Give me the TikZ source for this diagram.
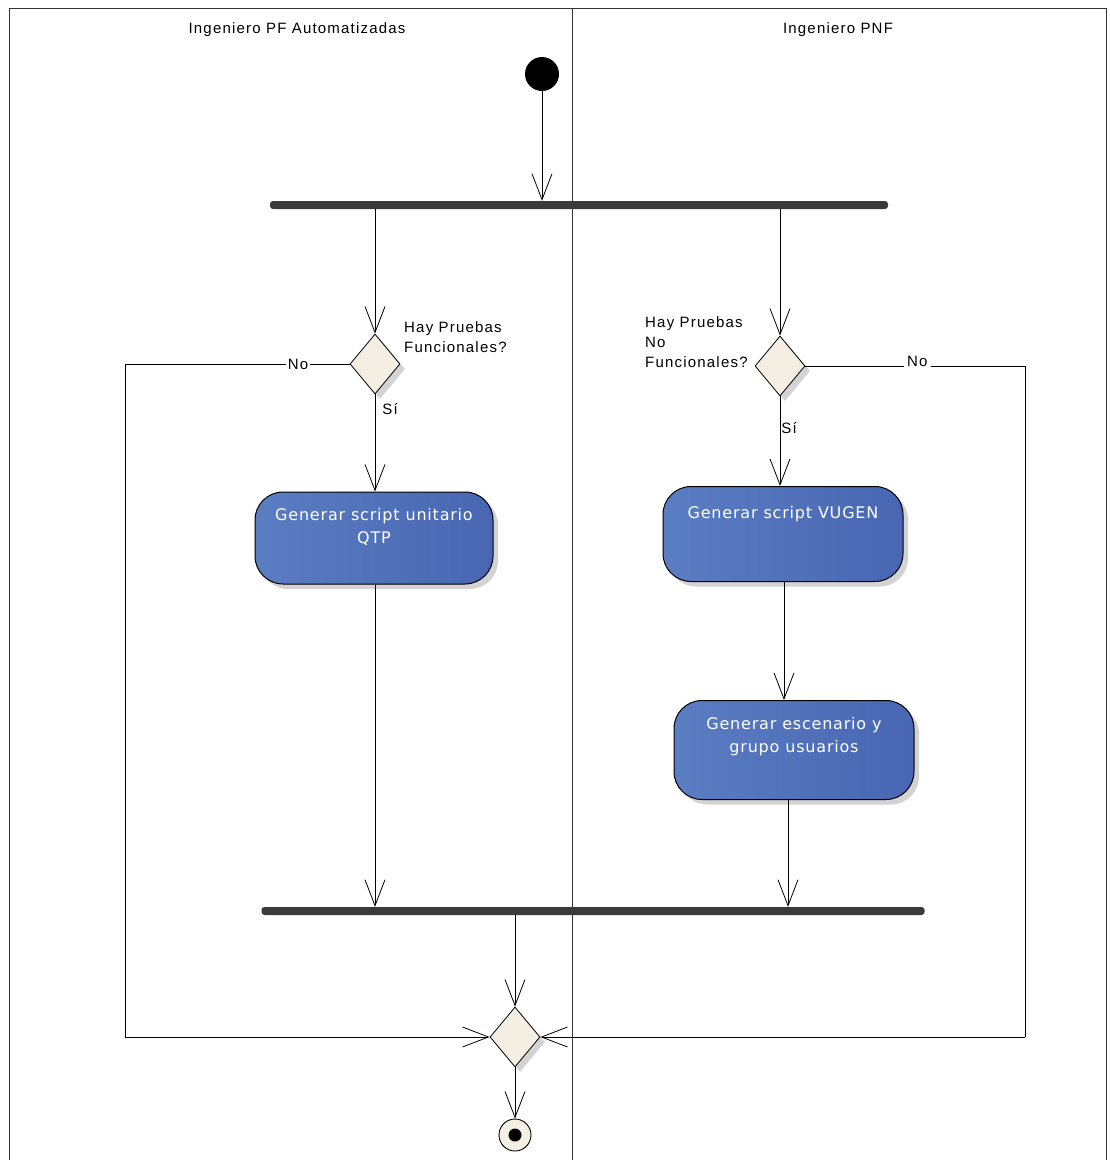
\documentclass[tikz,border=0pt]{standalone}
\usepackage{fontspec}
\setmainfont{Liberation Sans}
\newfontfamily\actfont{DejaVu Sans}[LetterSpace=5]
\newfontfamily\lblfont{Liberation Sans}[LetterSpace=8]
\usetikzlibrary{arrows.meta,shapes.geometric,shadows}
\definecolor{actblueL}{HTML}{5B7DC2}
\definecolor{actblueR}{HTML}{4866B2}
\definecolor{decfill}{HTML}{F4EEE3}
\definecolor{barcol}{HTML}{3A3A3A}
\tikzset{
  arr/.style={draw=black, line width=0.9pt, -{Straight Barb[length=26pt,width=20pt,line width=0.8pt]}},
  flow/.style={draw=black, line width=0.9pt},
  act/.style={rectangle, rounded corners=28pt, draw=black, line width=1pt,
     left color=actblueL, right color=actblueR, text=white,
     font=\actfont\fontsize{16}{23}\selectfont, align=center,
     drop shadow={shadow xshift=5pt, shadow yshift=-5pt, opacity=0.35, fill=gray}},
  dec/.style={diamond, draw=black, line width=0.8pt, fill=decfill, inner sep=0pt,
     minimum width=50pt, minimum height=60pt,
     drop shadow={shadow xshift=5pt, shadow yshift=-5pt, opacity=0.35, fill=gray}},
  syncbar/.style={rectangle, fill=barcol, inner sep=0pt, minimum height=8pt, rounded corners=3pt},
  lbl/.style={font=\lblfont\fontsize{15}{20}\selectfont, align=left, inner sep=1pt},
  lane/.style={font=\lblfont\fontsize{15}{18}\selectfont},
}
\begin{document}
\begin{tikzpicture}[x=1pt,y=-1pt]
\useasboundingbox (0,0) rectangle (1110,1160);
% swimlanes
\draw[line width=1pt, draw=black!80] (9,1160) -- (9,8) -- (1106,8) -- (1106,1160);
\draw[line width=1pt, draw=black!80] (572,8) -- (572,1160);
\node[lane] (laneL) at (297,30) {Ingeniero PF Automatizadas};
\node[lane] (laneR) at (838,30) {Ingeniero PNF};
% nodes
\node[circle, fill=black, minimum size=34pt, inner sep=0pt] (start) at (542,74) {};
\node[syncbar, minimum width=618pt] (fork) at (579,205) {};
\node[dec] (ldia) at (375,364) {};
\node[dec] (rdia) at (780,366) {};
\node[act, minimum width=238pt, minimum height=92pt, text depth=24pt] (lact) at (374,538) {Generar script unitario\\QTP};
\node[act, minimum width=240pt, minimum height=95pt, text depth=44pt] (ract1) at (783,534) {Generar script VUGEN};
\node[act, minimum width=240pt, minimum height=99pt, text depth=30pt] (ract2) at (794,750) {Generar escenario y\\grupo usuarios};
\node[syncbar, minimum width=663pt] (join) at (593,911) {};
\node[dec] (merge) at (515,1037) {};
\node[circle, draw=black, line width=0.9pt, fill=decfill, minimum size=32pt, inner sep=0pt] (final) at (515,1135) {};
\node[circle, fill=black, minimum size=13pt, inner sep=0pt] (finaldot) at (final) {};
% labels
\node[lbl, anchor=north west] (lq) at (403,320) {Hay Pruebas\\Funcionales?};
\node[lbl, anchor=north west] (rq) at (644,315) {Hay Pruebas\\No\\Funcionales?};
% coordinates
\coordinate (lc1) at (125,364);
\coordinate (lc2) at (125,1037);
\coordinate (rc1) at (1025,366);
\coordinate (rc2) at (1025,1037);
\coordinate (v1) at (784,0);
\coordinate (v2) at (788,0);
% connectors
\draw[arr] (start) -- (start |- fork.north);
\draw[arr] (ldia.north |- fork.south) -- (ldia.north);
\draw[arr] (rdia.north |- fork.south) -- (rdia.north);
\draw[arr] (ldia.south) -- node[lbl, right, pos=0.15, xshift=6pt] {Sí} (ldia.south |- lact.north);
\draw[arr] (rdia.south) -- node[lbl, right, pos=0.35] {Sí} (rdia.south |- ract1.north);
\draw[arr] (v1 |- ract1.south) -- (v1 |- ract2.north);
\draw[arr] (ldia |- lact.south) -- (ldia |- join.north);
\draw[arr] (v2 |- ract2.south) -- (v2 |- join.north);
\draw[arr] (merge |- join.south) -- (merge.north);
\draw[arr] (merge.south) -- (final.north);
\draw[flow] (ldia.west) -- node[lbl, fill=white, pos=0.23, inner sep=2pt] {No} (lc1) -- (lc2);
\draw[arr] (lc2) -- (merge.west);
\draw[flow] (rdia.east) -- node[lbl, fill=white, pos=0.51, inner sep=3pt, yshift=5pt] {No} (rc1) -- (rc2);
\draw[arr] (rc2) -- (merge.east);
\end{tikzpicture}
\end{document}
